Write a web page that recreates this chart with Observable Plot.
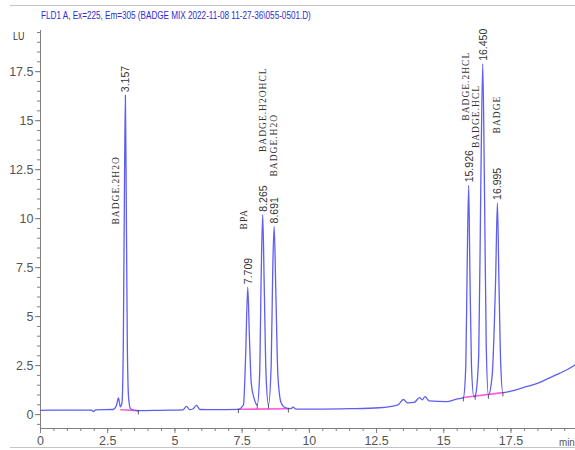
<!DOCTYPE html>
<html>
<head>
<meta charset="utf-8">
<script src="https://cdn.jsdelivr.net/npm/d3@7"></script>
<script src="https://cdn.jsdelivr.net/npm/@observablehq/plot@0.6"></script>
<style>
  body { margin: 0; background: #fff; }
  #wrap { position: relative; width: 575px; height: 450px; overflow: hidden; background: #fff; }
  .ov { position: absolute; white-space: nowrap; line-height: 1; font-family: "Liberation Sans Narrow", "Liberation Sans", Arial, sans-serif; }
  #title { left: 41px; top: 10px; font-size: 11px; color: #2b2bd6; transform: scaleX(0.74); transform-origin: 0 0; }
  #lu { left: 13px; top: 31px; font-size: 10.5px; color: #333; transform: scaleX(0.85); transform-origin: 0 0; }
  #minlab { left: 559px; top: 437px; font-size: 11.5px; color: #555; transform: scaleX(0.85); transform-origin: 0 0; }
  .hl { position: absolute; height: 1px; background: #c4c4c4; }
  #chart { position: absolute; left: 0; top: 0; }
</style>
</head>
<body>
<div id="wrap">
  <div id="chart"></div>
  <div class="hl" style="left:10px;top:5px;width:565px"></div>
  <div class="hl" style="left:10px;top:447px;width:565px"></div>
  <div class="ov" id="title">FLD1 A, Ex=225, Em=305 (BADGE MIX 2022-11-08 11-27-36\055-0501.D)</div>
  <div class="ov" id="lu">LU</div>
  <div class="ov" id="minlab">min</div>
</div>
<script>
// ---- data ----
const traceTime = [
  0, 1.0, 1.9, 1.97, 2.05, 2.7, 2.82, 2.9, 2.97, 3.03, 3.08, 3.12, 3.157, 3.19, 3.23, 3.28, 3.35, 3.6,
  4.5, 5.3, 5.43, 5.55, 5.68, 5.8, 5.93, 6.5, 7.36, 7.55, 7.63, 7.709, 7.77, 7.84, 7.95, 8.06,
  8.15, 8.21, 8.265, 8.32, 8.39, 8.48, 8.58, 8.64, 8.691, 8.75, 8.83, 8.95, 9.1, 9.3, 9.4, 9.5,
  10.5, 11.5, 12.6, 13.3, 13.5, 13.65, 13.9, 14.1, 14.2, 14.3, 14.45, 15.1, 15.5, 15.73,
  15.82, 15.87, 15.926, 15.97, 16.03, 16.12, 16.17, 16.3, 16.38, 16.45, 16.51, 16.58, 16.66,
  16.8, 16.93, 16.995, 17.05, 17.12, 17.2, 17.5, 17.96, 18.4, 18.85, 19.3, 19.6, 19.9
];
const traceSignal = [
  0.22, 0.23, 0.23, 0.15, 0.24, 0.26, 0.45, 0.85, 0.4, 0.6, 3.5, 11, 16.3, 11, 3.5, 0.8, 0.3, 0.2,
  0.22, 0.24, 0.42, 0.25, 0.3, 0.47, 0.26, 0.25, 0.27, 0.5, 3.0, 6.5, 4.0, 1.6, 0.8, 0.5,
  2.0, 7.2, 10.2, 6.7, 2.0, 0.5, 2.5, 7.5, 9.6, 6.5, 2.0, 0.6, 0.35, 0.3, 0.38, 0.28,
  0.28, 0.3, 0.35, 0.5, 0.77, 0.6, 0.62, 0.87, 0.75, 0.92, 0.7, 0.66, 0.8, 0.87,
  2.5, 7.5, 11.7, 7.5, 2.5, 0.9, 0.95, 3.0, 12, 17.9, 12, 3.5, 1.0,
  2.0, 7.0, 10.8, 7.0, 2.5, 1.12, 1.2, 1.38, 1.55, 1.82, 2.1, 2.3, 2.55
];
const peakRT = [3.157, 7.709, 8.265, 8.691, 15.926, 16.450, 16.995];
const peakHeight = [16.3, 6.5, 10.2, 9.6, 11.7, 17.9, 10.8];
const peakLabel = ["3.157", "7.709", "8.265", "8.691", "15.926", "16.450", "16.995"];
const compoundName = ["BADGE.2H2O", "BPA", "BADGE.H2OHCL", "BADGE.H2O", "BADGE.2HCL", "BADGE.HCL", "BADGE"];
const nameLevel = [9.7, 9.45, 13.4, 12.15, 15.0, 13.6, 14.35];
// integration baselines (start time, start LU, end time, end LU)
const baseStart = [2.97, 7.36, 15.73];
const baseStartLU = [0.25, 0.27, 0.87];
const baseEnd = [3.64, 9.22, 17.2];
const baseEndLU = [0.2, 0.3, 1.12];
// integration event markers
const markTime = [3.64, 7.36, 8.06, 8.48, 9.22, 15.73, 16.17, 16.66, 17.2];
const markLU = [0.2, 0.27, 0.5, 0.5, 0.3, 0.87, 0.95, 1.0, 1.12];
const xMajor = [0, 2.5, 5, 7.5, 10, 12.5, 15, 17.5];
const yMajor = [0, 2.5, 5, 7.5, 10, 12.5, 15, 17.5];

// ---- tables ----
const trace = traceTime.map((t, i) => ({t, v: traceSignal[i]}));
const peaks = peakRT.map((t, i) => ({t, v: peakHeight[i], label: peakLabel[i], name: compoundName[i], lvl: nameLevel[i]}));
const bases = baseStart.map((t, i) => ({t1: t, v1: baseStartLU[i], t2: baseEnd[i], v2: baseEndLU[i]}));
const marks = markTime.map((t, i) => ({t, v: markLU[i]}));

// ---- layout (styling only) ----
const nameShift = [-9, -4, 0, 0, -3, -7, 0];
const axisColor = "#808080";
const narrow = "'Liberation Sans Narrow', 'Liberation Sans', Arial, sans-serif";

const xMinor = d3.range(0, 19.9, 0.5);
const yMinor = d3.range(-0.5, 19.6, 0.5);

const chart = Plot.plot({
  width: 575,
  height: 450,
  marginLeft: 40,
  marginRight: 0,
  marginTop: 30,
  marginBottom: 22,
  style: {fontFamily: narrow, background: "transparent", overflow: "visible"},
  x: {domain: [0, 19.9]},
  y: {domain: [-0.71, 19.6]},
  marks: [
    Plot.axisX({ticks: xMinor, tickSize: 3, stroke: axisColor, tickFormat: () => "", label: null}),
    Plot.axisX({ticks: xMajor, tickSize: 5, tickPadding: 3, stroke: axisColor, fill: "#555", fontSize: 12.5, tickFormat: d => String(d), label: null}),
    Plot.axisY({ticks: yMinor, tickSize: 3, stroke: axisColor, tickFormat: () => "", label: null}),
    Plot.axisY({ticks: yMajor, tickSize: 5, tickPadding: 2, stroke: axisColor, fill: "#555", fontSize: 12.5, tickFormat: d => String(d), label: null}),
    Plot.ruleX([0], {stroke: axisColor}),
    Plot.ruleY([-0.71], {stroke: axisColor}),
    Plot.link(bases, {x1: "t1", y1: "v1", x2: "t2", y2: "v2", stroke: "#ff5ad8", strokeWidth: 1.6}),
    Plot.line(trace, {x: "t", y: "v", curve: "monotone-x", stroke: "#5e5ef2", strokeWidth: 1.3}),
    Plot.ruleX(marks, {x: "t", y1: "v", y2: d => d.v - 0.22, stroke: "#333", strokeWidth: 0.8}),
    Plot.text(peaks, {x: "t", y: "v", text: "label", rotate: -90, textAnchor: "start", lineAnchor: "middle", dx: 0.5, dy: -3, fontSize: 10.5, fill: "#333", fontFamily: "'Liberation Sans', Arial, sans-serif"}),
    Plot.text(peaks, {x: "t", y: "lvl", text: "name", rotate: -90, textAnchor: "start", lineAnchor: "middle", fontSize: 9.5, fill: "#333", fontFamily: "'Liberation Serif', 'Times New Roman', serif"})
  ]
});

// apply per-label horizontal shifts for compound names
const textGroups = chart.querySelectorAll("g[aria-label='text']");
if (textGroups.length >= 2) {
  const nameTexts = textGroups[textGroups.length - 1].querySelectorAll("text");
  nameTexts.forEach((el, i) => {
    const tr = el.getAttribute("transform") || "";
    el.setAttribute("transform", `translate(${nameShift[i]},0) ` + tr);
    el.style.letterSpacing = "1px";
  });
}
document.getElementById("chart").appendChild(chart);
</script>
</body>
</html>
